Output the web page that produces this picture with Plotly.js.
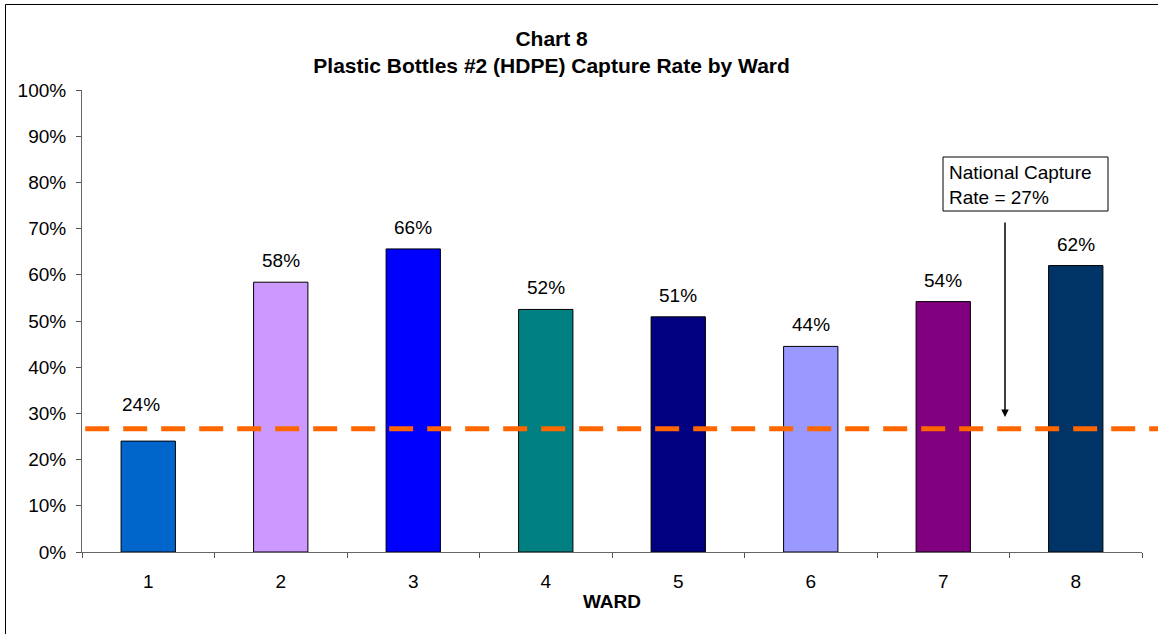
<!DOCTYPE html>
<html>
<head>
<meta charset="utf-8">
<script src="https://cdn.plot.ly/plotly-3.0.1.min.js"></script>
<style>html,body{margin:0;padding:0;background:#fff;}#chart{width:1158px;height:634px;}</style>
</head>
<body>
<div id="chart"></div>
<script>
const wards = ["1", "2", "3", "4", "5", "6", "7", "8"];
const captureRates = [0.24, 0.584, 0.656, 0.525, 0.509, 0.445, 0.542, 0.62];
const barLabels = ["24%", "58%", "66%", "52%", "51%", "44%", "54%", "62%"];
const barColors = ["#0066CC", "#CC99FF", "#0000FF", "#008080", "#000080", "#9999FF", "#800080", "#003366"];
const nationalRate = 0.267;
const nationalLabel = ["National Capture", "Rate = 27%"];

const FONT = "Liberation Sans, Arial, sans-serif";

const trace = {
  type: "bar",
  x: wards,
  y: captureRates,
  width: 0.41,
  marker: { color: barColors, line: { color: "#000000", width: 1 } },
  hoverinfo: "skip"
};

// the first label sits higher (moved clear of the dashed national line)
const labelAnns = wards.map((w, i) => ({
  x: i, y: captureRates[i], xref: "x", yref: "y",
  text: barLabels[i], showarrow: false,
  yanchor: "bottom", yshift: i === 0 ? 24 : 9, xshift: i === 0 ? -7 : 0,
  font: { family: FONT, size: 19, color: "#000" }
}));

const layout = {
  width: 1158, height: 634,
  margin: { l: 82, r: 16, t: 90, b: 82 },
  paper_bgcolor: "#fff", plot_bgcolor: "#fff",
  showlegend: false,
  font: { family: FONT, size: 19, color: "#000" },
  title: {
    text: "<b>Chart 8</b><br><b>Plastic Bottles #2 (HDPE) Capture Rate by Ward</b>",
    font: { family: FONT, size: 21, color: "#000" },
    x: 0.443, xref: "paper", xanchor: "center",
    y: 0.928, yref: "container", yanchor: "top"
  },
  xaxis: {
    type: "category",
    range: [-0.5, 7.5],
    tickson: "boundaries",
    ticks: "outside", ticklen: 5, tickcolor: "#555",
    ticklabelstandoff: 12,
    showline: true, linecolor: "#666", linewidth: 1,
    showgrid: false, zeroline: false,
    tickfont: { family: FONT, size: 19, color: "#000" },
    title: { text: "<b>WARD</b>", font: { family: FONT, size: 19, color: "#000" }, standoff: 3 }
  },
  yaxis: {
    range: [0, 1], dtick: 0.1, tickformat: ".0%",
    ticks: "outside", ticklen: 5, tickcolor: "#555",
    ticklabelstandoff: 6,
    showline: true, linecolor: "#666", linewidth: 1,
    showgrid: false, zeroline: false,
    tickfont: { family: FONT, size: 19, color: "#000" }
  },
  shapes: [
    { type: "line", xref: "paper", yref: "y", x0: 0.003, x1: 1.05, y0: nationalRate, y1: nationalRate,
      line: { color: "#FF6600", width: 5, dash: "24px,14px" }, layer: "above" },
    { type: "rect", xref: "paper", yref: "paper",
      x0: (943 - 82) / 1060, x1: (1108 - 82) / 1060,
      y0: (552 - 211) / 462, y1: (552 - 157) / 462,
      line: { color: "#000", width: 1 }, fillcolor: "#fff" },
    { type: "line", xref: "paper", yref: "paper",
      x0: (5.5 - 82) / 1060, x1: (5.5 - 82) / 1060, y0: -0.2, y1: (552 - 4.5) / 462,
      line: { color: "#000", width: 1 } },
    { type: "line", xref: "paper", yref: "paper",
      x0: (5.5 - 82) / 1060, x1: 1.1, y0: (552 - 4.5) / 462, y1: (552 - 4.5) / 462,
      line: { color: "#000", width: 1 } }
  ],
  annotations: labelAnns.concat([
    { xref: "paper", yref: "paper", x: (947 - 82) / 1060, y: (552 - 172) / 462,
      xanchor: "left", yanchor: "middle", text: nationalLabel[0], showarrow: false,
      font: { family: FONT, size: 19, color: "#000" } },
    { xref: "paper", yref: "paper", x: (947 - 82) / 1060, y: (552 - 197) / 462,
      xanchor: "left", yanchor: "middle", text: nationalLabel[1], showarrow: false,
      font: { family: FONT, size: 19, color: "#000" } },
    { xref: "paper", yref: "y", x: (1005 - 82) / 1060, y: 0.292, text: "",
      showarrow: true, arrowhead: 2, arrowsize: 1, arrowwidth: 1.5, arrowcolor: "#000",
      ax: 0, ay: -196 }
  ])
};

Plotly.newPlot("chart", [trace], layout, { displayModeBar: false, staticPlot: true });
</script>
</body>
</html>
